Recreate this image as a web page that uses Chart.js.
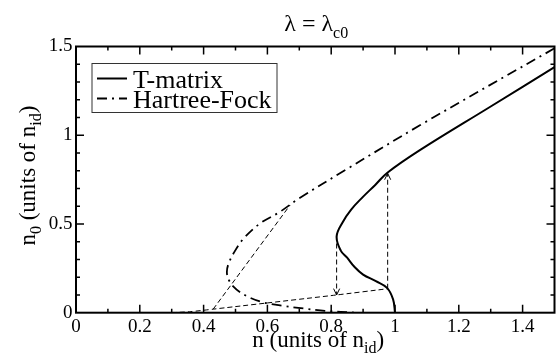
<!DOCTYPE html>
<html>
<head>
<meta charset="utf-8">
<script src="https://cdn.jsdelivr.net/npm/chart.js@4.4.1/dist/chart.umd.min.js"></script>
<style>
  html, body { margin: 0; padding: 0; background: #fff; }
  #chart { display: block; }
</style>
</head>
<body>
<canvas id="chart" width="559" height="362"></canvas>
<script>

// T-matrix curve (solid), followed from the top right down through the S bend
const tmatrixN  = [1.5, 1.3, 1.078, 0.977, 0.938, 0.898, 0.862, 0.836, 0.817, 0.83, 0.85, 0.872, 0.9, 0.94, 0.975, 0.994, 1.0];
const tmatrixN0 = [1.384, 1.162, 0.916, 0.79, 0.72, 0.65, 0.58, 0.51, 0.43, 0.35, 0.31, 0.26, 0.215, 0.178, 0.14, 0.075, 0.0];

// Hartree-Fock curve (dash-dot)
const hfN  = [1.5, 1.078, 0.85, 0.70, 0.639, 0.577, 0.524, 0.494, 0.477, 0.473, 0.479, 0.492, 0.515, 0.545, 0.587, 0.65, 0.713, 0.78, 0.88];
const hfN0 = [1.49, 1.056, 0.81, 0.645, 0.568, 0.503, 0.415, 0.335, 0.27, 0.225, 0.185, 0.15, 0.115, 0.085, 0.058, 0.038, 0.024, 0.01, 0.0];

// thin dashed construction lines
const feedN  = [0.30, 0.36, 0.43, 0.817, 0.977];
const feedN0 = [0.0, 0.006, 0.02, 0.10, 0.135];
const riseN  = [0.43, 0.671];
const riseN0 = [0.02, 0.606];
const jumpUpN  = [0.977, 0.977];
const jumpUpN0 = [0.135, 0.785];
const jumpDownN  = [0.817, 0.817];
const jumpDownN0 = [0.435, 0.10];

// tick labels
const xTicks = [0, 0.2, 0.4, 0.6, 0.8, 1, 1.2, 1.4];
const yTicks = [0, 0.5, 1, 1.5];

const serif = "'Liberation Serif', 'Times New Roman', serif";

function toPoints(xs, ys) {
    return xs.map((x, i) => ({ x: x, y: ys[i] }));
}

const dashDot = [10, 5, 2, 5];
const dashed = [5, 3];

// draws a run of text pieces, some of them as subscripts
function drawRich(ctx, parts, x, y, size, align) {
    const subSize = Math.round(size * 0.68);
    let total = 0;
    parts.forEach(p => {
        ctx.font = (p.sub ? subSize : size) + "px " + serif;
        p.w = ctx.measureText(p.t).width;
        total += p.w;
    });
    let cx = align === "center" ? x - total / 2 : x;
    parts.forEach(p => {
        ctx.font = (p.sub ? subSize : size) + "px " + serif;
        ctx.fillText(p.t, cx, p.sub ? y + size * 0.28 : y);
        cx += p.w;
    });
}

const framePlugin = {
    id: "frame",
    afterDatasetsDraw(chart) {
        const ctx = chart.ctx;
        const area = chart.chartArea;
        const xs = chart.scales.x;
        const ys = chart.scales.y;

        ctx.save();
        ctx.strokeStyle = "#000";
        ctx.fillStyle = "#000";
        ctx.setLineDash([]);

        // arrow heads at the end of the jump lines
        chart.data.datasets.forEach(ds => {
            if (!ds.arrow) return;
            const n = ds.data.length;
            const a = ds.data[n - 2];
            const b = ds.data[n - 1];
            const ax = xs.getPixelForValue(a.x), ay = ys.getPixelForValue(a.y);
            const bx = xs.getPixelForValue(b.x), by = ys.getPixelForValue(b.y);
            const ang = Math.atan2(by - ay, bx - ax);
            ctx.lineWidth = 1;
            ctx.beginPath();
            ctx.moveTo(bx - 7 * Math.cos(ang - 0.45), by - 7 * Math.sin(ang - 0.45));
            ctx.lineTo(bx, by);
            ctx.lineTo(bx - 7 * Math.cos(ang + 0.45), by - 7 * Math.sin(ang + 0.45));
            ctx.stroke();
        });

        // box round the plot
        ctx.lineWidth = 2;
        ctx.strokeRect(area.left, area.top, area.right - area.left, area.bottom - area.top);

        // inward ticks on all four sides
        ctx.lineWidth = 1.5;
        ctx.beginPath();
        for (let i = 1; i < 15; i++) {
            const v = i / 10;
            const px = xs.getPixelForValue(v);
            const lenX = i % 2 === 0 ? 8 : 4;
            ctx.moveTo(px, area.bottom); ctx.lineTo(px, area.bottom - lenX);
            ctx.moveTo(px, area.top); ctx.lineTo(px, area.top + lenX);
            const py = ys.getPixelForValue(v);
            const lenY = i % 5 === 0 ? 8 : 4;
            ctx.moveTo(area.left, py); ctx.lineTo(area.left + lenY, py);
            ctx.moveTo(area.right, py); ctx.lineTo(area.right - lenY, py);
        }
        ctx.stroke();

        // legend inside the plot
        const lx = area.left + 16;
        const ly = area.top + 17;
        ctx.lineWidth = 1;
        ctx.strokeStyle = "#333";
        ctx.strokeRect(lx, ly, 185, 49);
        ctx.strokeStyle = "#000";
        ctx.textAlign = "left";
        ctx.textBaseline = "alphabetic";
        chart.data.datasets.filter(ds => ds.inLegend).forEach((ds, i) => {
            const rowY = ly + 15 + i * 20;
            ctx.lineWidth = ds.borderWidth;
            ctx.setLineDash(ds.borderDash || []);
            ctx.beginPath();
            ctx.moveTo(lx + 5, rowY);
            ctx.lineTo(lx + 35, rowY);
            ctx.stroke();
            ctx.setLineDash([]);
            ctx.font = "26px " + serif;
            ctx.fillText(ds.label, lx + 41, rowY + 9);
        });

        // title and axis titles
        const midX = (area.left + area.right) / 2;
        const midY = (area.top + area.bottom) / 2;
        drawRich(ctx, [{ t: "\u03bb = \u03bb" }, { t: "c0", sub: true }], midX + 1, 31, 24, "center");
        drawRich(ctx, [{ t: "n (units of n" }, { t: "id", sub: true }, { t: ")" }], midX + 3, 347, 23, "center");

        ctx.translate(35, midY - 4);
        ctx.rotate(-Math.PI / 2);
        drawRich(ctx, [{ t: "n" }, { t: "0", sub: true }, { t: " (units of n" }, { t: "id", sub: true }, { t: ")" }], 0, 0, 23, "center");

        ctx.restore();
    }
};

const ctx = document.getElementById("chart").getContext("2d");

new Chart(ctx, {
    type: "scatter",
    data: {
        datasets: [
            {
                label: "T-matrix",
                inLegend: true,
                data: toPoints(tmatrixN, tmatrixN0),
                showLine: true,
                borderColor: "#000",
                borderWidth: 2,
                pointRadius: 0,
                tension: 0.4
            },
            {
                label: "Hartree-Fock",
                inLegend: true,
                data: toPoints(hfN, hfN0),
                showLine: true,
                borderColor: "#000",
                borderWidth: 1.8,
                borderDash: dashDot,
                pointRadius: 0,
                tension: 0.35
            },
            {
                label: "feed",
                data: toPoints(feedN, feedN0),
                showLine: true,
                borderColor: "#000",
                borderWidth: 1,
                borderDash: dashed,
                pointRadius: 0,
                tension: 0.2
            },
            {
                label: "rise",
                data: toPoints(riseN, riseN0),
                showLine: true,
                borderColor: "#000",
                borderWidth: 1,
                borderDash: dashed,
                pointRadius: 0
            },
            {
                label: "jump up",
                arrow: true,
                data: toPoints(jumpUpN, jumpUpN0),
                showLine: true,
                borderColor: "#000",
                borderWidth: 1,
                borderDash: dashed,
                pointRadius: 0
            },
            {
                label: "jump down",
                arrow: true,
                data: toPoints(jumpDownN, jumpDownN0),
                showLine: true,
                borderColor: "#000",
                borderWidth: 1,
                borderDash: dashed,
                pointRadius: 0
            }
        ]
    },
    options: {
        responsive: false,
        animation: false,
        devicePixelRatio: 1,
        layout: {
            padding: { top: 46.5, right: 4.5, left: 0, bottom: 0 }
        },
        plugins: {
            legend: { display: false },
            title: { display: false },
            tooltip: { enabled: false }
        },
        scales: {
            x: {
                type: "linear",
                min: 0,
                max: 1.5,
                afterBuildTicks: scale => { scale.ticks = xTicks.map(v => ({ value: v })); },
                afterFit: scale => { scale.height = 49.3; },
                grid: { display: false, drawTicks: false },
                border: { display: false },
                ticks: {
                    color: "#000",
                    padding: 3,
                    maxRotation: 0,
                    callback: v => String(v),
                    font: { family: serif, size: 19 }
                }
            },
            y: {
                type: "linear",
                min: 0,
                max: 1.5,
                afterBuildTicks: scale => { scale.ticks = yTicks.map(v => ({ value: v })); },
                afterFit: scale => { scale.width = 76; },
                grid: { display: false, drawTicks: false },
                border: { display: false },
                ticks: {
                    color: "#000",
                    padding: 3.5,
                    callback: v => String(v),
                    font: { family: serif, size: 19 }
                }
            }
        }
    },
    plugins: [framePlugin]
});
</script>
</body>
</html>
